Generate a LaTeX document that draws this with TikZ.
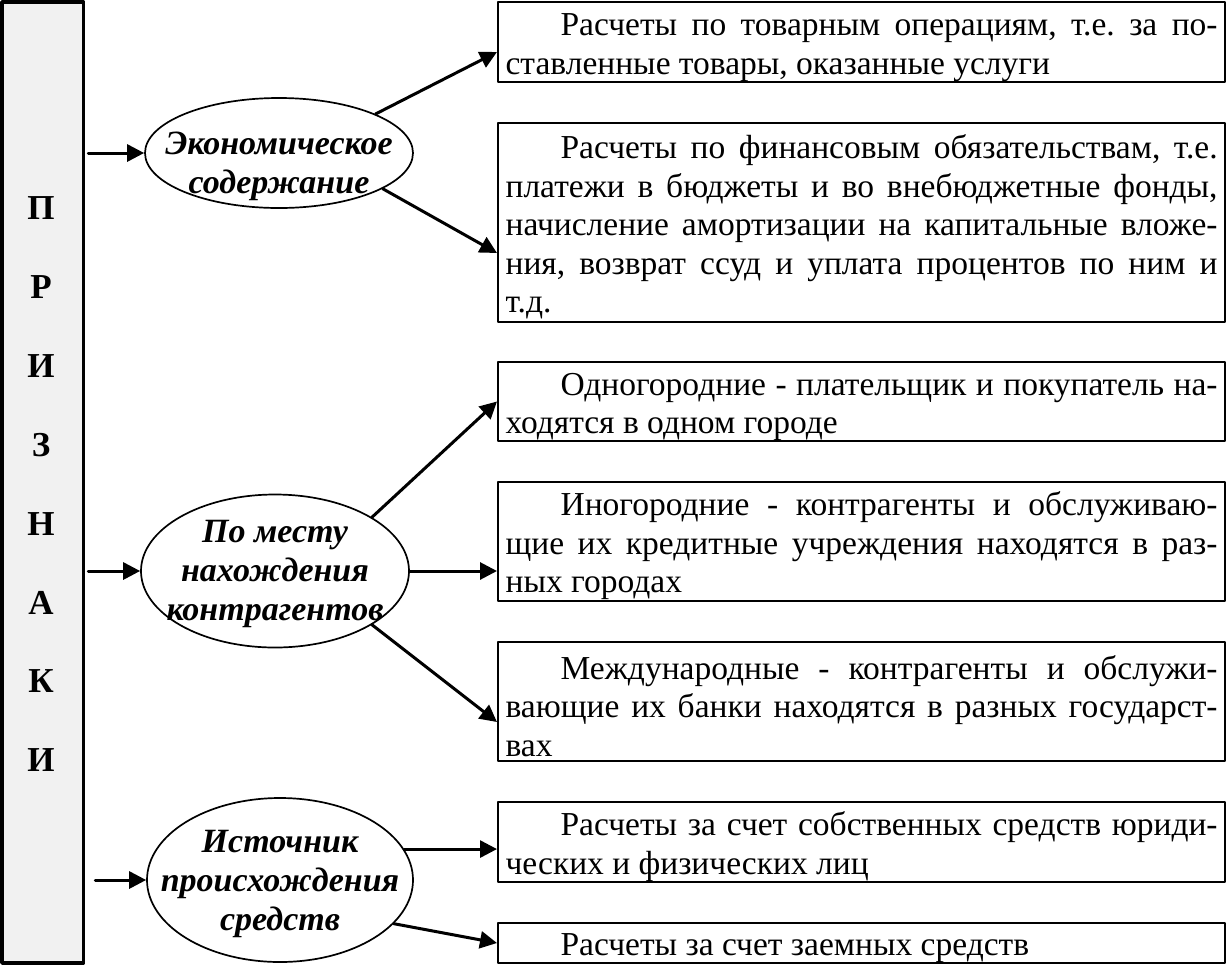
\documentclass[tikz,border=0pt]{standalone}
\usepackage{fontspec}
\setmainfont{Liberation Serif}
\usetikzlibrary{positioning,arrows.meta,shapes.geometric,calc}
\definecolor{barfill}{RGB}{241,241,241}
\newcommand\boxfont{\fontsize{16.75pt}{19.25pt}\selectfont}
\newcommand\ovalfont{\fontsize{17pt}{19.5pt}\selectfont\bfseries\itshape}
\newcommand\ind{\hspace*{27.5pt}}
\tolerance=9999
\frenchspacing
\tikzset{
  txtbox/.style={draw, line width=1.1pt, anchor=west, text width=356pt,
    text height=16.5pt, inner xsep=3.75pt, inner ysep=0pt, align=justify,
    font=\boxfont},
  oval/.style={draw, ellipse, line width=0.85pt, inner sep=0pt},
  ovaltext/.style={align=center, font=\ovalfont, inner sep=0pt},
  arr/.style={line width=1.5pt, -{Triangle[length=8.5pt,width=8.5pt]}},
  barletter/.style={font=\fontsize{17.5pt}{20pt}\selectfont\bfseries}
}
\begin{document}
\begin{tikzpicture}[x=0.5pt, y=-0.5pt, line cap=round, line join=round]
\useasboundingbox (0,0) rectangle (1227,965);

% Left bar
\node[draw, fill=barfill, line width=1.75pt, minimum width=40.75pt,
  minimum height=480.5pt, inner sep=0pt] (bar) at (42.75,482.5) {};
\foreach \ch [count=\i from 0] in {П,Р,И,З,Н,А,К,И}
  \node[barletter] (l\i) at (41,208+78.9*\i) {\ch};

% Ovals
\node[oval, minimum width=134pt, minimum height=55pt,
  label={[ovaltext, yshift=-6.5pt]center:Экономическое\\содержание}] (e1) at (279,153) {};
\node[oval, minimum width=134pt, minimum height=76.5pt,
  label={[ovaltext, yshift=-1.5pt]center:По месту\\нахождения\\контрагентов}] (e2) at (275,571) {};
\node[oval, minimum width=133pt, minimum height=82pt,
  label={[ovaltext, yshift=-2pt]center:Источник\\происхождения\\средств}] (e3) at (280,880) {};

% Boxes
\node[txtbox, minimum height=40pt] (b1) at (497,42)
  {\ind Расчеты по товарным операциям, т.е. за по-\linebreak ставленные товары, оказанные услуги};
\node[txtbox, minimum height=99.5pt] (b2) at (497,222.5)
  {\ind Расчеты по финансовым обязательствам, т.е.\linebreak платежи в бюджеты и во внебюджетные фонды,\linebreak начисление амортизации на капитальные вложе-\linebreak ния, возврат ссуд и уплата процентов по ним и\linebreak т.д.};
\node[txtbox, minimum height=39.5pt] (b3) at (497,401.5)
  {\ind Одногородние - плательщик и покупатель на-\linebreak ходятся в одном городе};
\node[txtbox, minimum height=59.5pt] (b4) at (497,541.5)
  {\ind Иногородние - контрагенты и обслуживаю-\linebreak щие их кредитные учреждения находятся в раз-\linebreak ных городах};
\node[txtbox, minimum height=59.5pt] (b5) at (497,701.5)
  {\ind Международные - контрагенты и обслужи-\linebreak вающие их банки находятся в разных государст-\linebreak вах};
\node[txtbox, minimum height=40pt] (b6) at (497,842)
  {\ind Расчеты за счет собственных средств юриди-\linebreak ческих и физических лиц};
\node[txtbox, minimum height=20pt] (b7) at (497,943)
  {\ind Расчеты за счет заемных средств};

% Arrows
\draw[arr, shorten <=1.5pt] (bar.east |- e1.west) -- (e1.west);
\draw[arr, shorten <=1.5pt] (bar.east |- e2.west) -- (e2.west);
\draw[arr, shorten <=5pt] (bar.east |- e3.west) -- (e3.west);
\draw[arr] (e1.22) -- ($(b1.west)+(0,10)$);
\draw[arr] (e1.-19) -- ($(b2.west)+(0,30.5)$);
\draw[arr] (e2.29) -- (b3.west);
\draw[arr] (e2.east) -- (e2.east -| b4.west);
\draw[arr] (e2.-29) -- ($(b5.west)+(0,20.5)$);
\draw[arr] (e3.14) -- (e3.14 -| b6.west);
\draw[arr] (e3.-21) -- (b7.west);
\end{tikzpicture}
\end{document}
